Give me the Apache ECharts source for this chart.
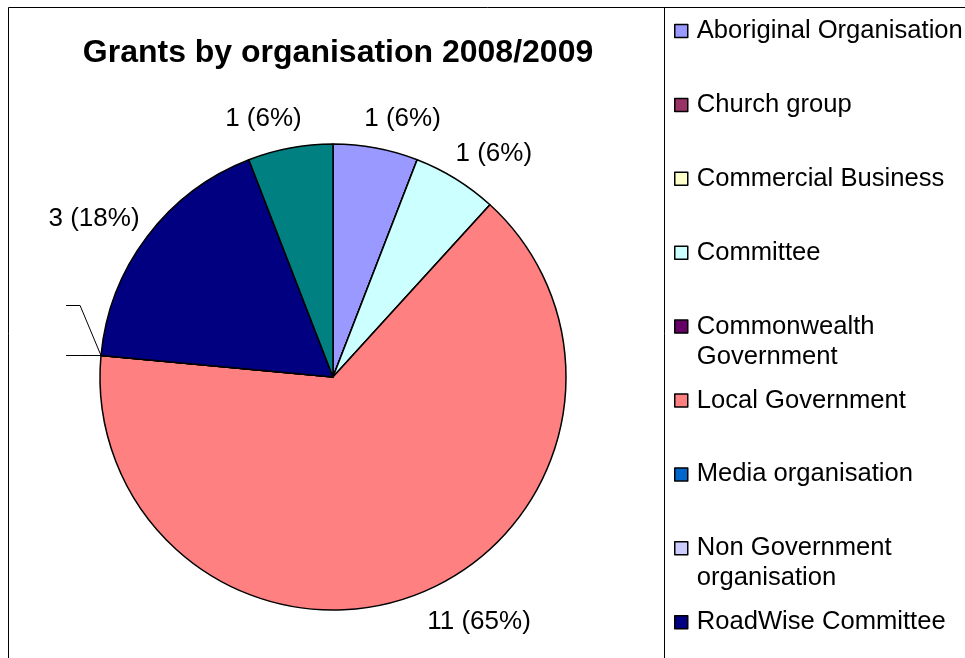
<!DOCTYPE html>
<html>
<head>
<meta charset="utf-8">
<title>Grants by organisation 2008/2009</title>
<script src="https://cdn.jsdelivr.net/npm/echarts@6/dist/echarts.min.js"></script>
<style>
  html, body { margin: 0; padding: 0; background: #fff; }
  #chart { width: 965px; height: 658px; }
</style>
</head>
<body>
<div id="chart"></div>
<script>
// Grant counts per organisation type, 2008/2009
const categories = [
  'Aboriginal Organisation',
  'Church group',
  'Commercial Business',
  'Committee',
  'Commonwealth Government',
  'Local Government',
  'Media organisation',
  'Non Government organisation',
  'RoadWise Committee',
  'Sporting club'
];
const grants = [1, 0, 0, 1, 0, 11, 0, 0, 3, 1];

// Legend entries that fit inside the legend frame
const legendNames = categories.slice(0, 9);

// Empty slices that still carry a leader line
const leaderOnly = ['Media organisation', 'Non Government organisation'];

// Slice fill colours, in category order
const palette = ['#9999FF', '#993366', '#FFFFCC', '#CCFFFF', '#660066',
                 '#FF8080', '#0066CC', '#CCCCFF', '#000080', '#008080'];

const FONT = '"Liberation Sans", Arial, Helvetica, sans-serif';
const CX = 333, CY = 377, R = 233;
const LEAD_LEN = 21, LEAD_LEN2 = 14, LEAD_STEP = 50;
const total = grants.reduce((a, b) => a + b, 0);

// Mid-angle of every slice, measured clockwise from 12 o'clock
const midAngles = [];
let acc = 0;
grants.forEach(v => { midAngles.push(2 * Math.PI * (acc + v / 2) / total); acc += v; });

const data = categories.map((name, i) => {
  const item = { name: name, value: grants[i], itemStyle: { color: palette[i] } };
  if (grants[i] === 0) {
    const lead = leaderOnly.indexOf(name) >= 0;
    item.label = { show: lead, formatter: ' ' };
    item.labelLine = { show: lead };
  }
  return item;
});

// Word-wrap legend text to the width of the legend frame
const LEGEND_FONT = 25.6;
const measureCtx = document.createElement('canvas').getContext('2d');
measureCtx.font = LEGEND_FONT + 'px "Liberation Sans"';
function wrap(name, maxW) {
  const words = name.split(' ');
  const lines = [];
  let cur = '';
  words.forEach(w => {
    const t = cur ? cur + ' ' + w : w;
    if (cur && measureCtx.measureText(t).width > maxW) { lines.push(cur); cur = w; }
    else { cur = t; }
  });
  lines.push(cur);
  return lines;
}

// One legend block per entry so every entry sits on a fixed pitch.
// Wrapped entries get blank lines above so the swatch stays level
// with the first text line.
const LINE_H = 30, PITCH = 73.9, FIRST = 31;
const legends = legendNames.map((name, i) => {
  const lines = wrap(name, 278);
  const extra = lines.length - 1;
  const text = new Array(extra).fill('').concat(lines).join('\n');
  return {
    data: [name],
    left: 674,
    top: FIRST + PITCH * i - LINE_H / 2 - extra * LINE_H,
    padding: 0,
    orient: 'vertical',
    icon: 'rect',
    itemWidth: 13,
    itemHeight: 13,
    selectedMode: false,
    formatter: () => text,
    itemStyle: { borderColor: '#000', borderWidth: 1.5 },
    textStyle: {
      fontFamily: FONT, fontSize: LEGEND_FONT, color: '#000',
      lineHeight: LINE_H, padding: [0, 0, 0, 4]
    }
  };
});

const chart = echarts.init(document.getElementById('chart'), null, { renderer: 'canvas' });
chart.setOption({
  backgroundColor: '#fff',
  animation: false,
  title: {
    text: 'Grants by organisation 2008/2009',
    left: 338,
    top: 37,
    textAlign: 'center',
    padding: 0,
    textStyle: { fontFamily: FONT, fontSize: 32, fontWeight: 'bold', color: '#000', lineHeight: 32 }
  },
  legend: legends,
  graphic: [
    {
      type: 'rect', silent: true, z: 100,
      shape: { x: 8.5, y: 7.5, width: 1200, height: 1000 },
      style: { fill: 'none', stroke: '#000', lineWidth: 1 }
    },
    {
      type: 'line', silent: true, z: 100,
      shape: { x1: 664.5, y1: 7.5, x2: 664.5, y2: 700 },
      style: { stroke: '#000', lineWidth: 1 }
    }
  ],
  series: [{
    type: 'pie',
    center: [CX, CY],
    radius: R,
    startAngle: 90,
    clockwise: true,
    data: data,
    itemStyle: { borderColor: '#000', borderWidth: 1.5 },
    emphasis: { disabled: true },
    label: {
      show: true,
      position: 'outside',
      fontFamily: FONT,
      fontSize: 26,
      color: '#000',
      formatter: p => {
        const v = grants[p.dataIndex];
        return v ? v + ' (' + Math.round(v / total * 100) + '%)' : ' ';
      }
    },
    labelLine: {
      show: false,
      length: LEAD_LEN,
      length2: LEAD_LEN2,
      lineStyle: { color: '#000', width: 1 }
    },
    labelLayout: p => {
      const name = categories[p.dataIndex];
      const v = grants[p.dataIndex];
      const t = midAngles[p.dataIndex];
      const s = Math.sin(t), c = Math.cos(t);
      if (!v) {
        // Leader lines of empty slices: the first runs level out from the
        // rim point, the next ones are stacked above it
        const k = leaderOnly.indexOf(name);
        if (k < 0) return;
        const ex = CX + R * s, ey = CY - R * c;
        const bx = CX + (R + LEAD_LEN) * s, by = ey - k * LEAD_STEP;
        const endX = bx + Math.sign(s) * LEAD_LEN2;
        return {
          x: endX, y: by,
          labelLinePoints: [[ex, ey], [bx, by], [endX, by]]
        };
      }
      // Value labels sit just outside the rim on each slice's mid-angle,
      // pushed sideways by part of their own width (more so below the centre)
      const d = R + 30;
      const push = 0.55 + 0.45 * (1 - c) / 2;
      return {
        x: CX + d * s + Math.sign(s) * push * p.labelRect.width / 2,
        y: CY - d * c,
        align: 'center',
        verticalAlign: 'middle'
      };
    }
  }]
});
</script>
</body>
</html>
